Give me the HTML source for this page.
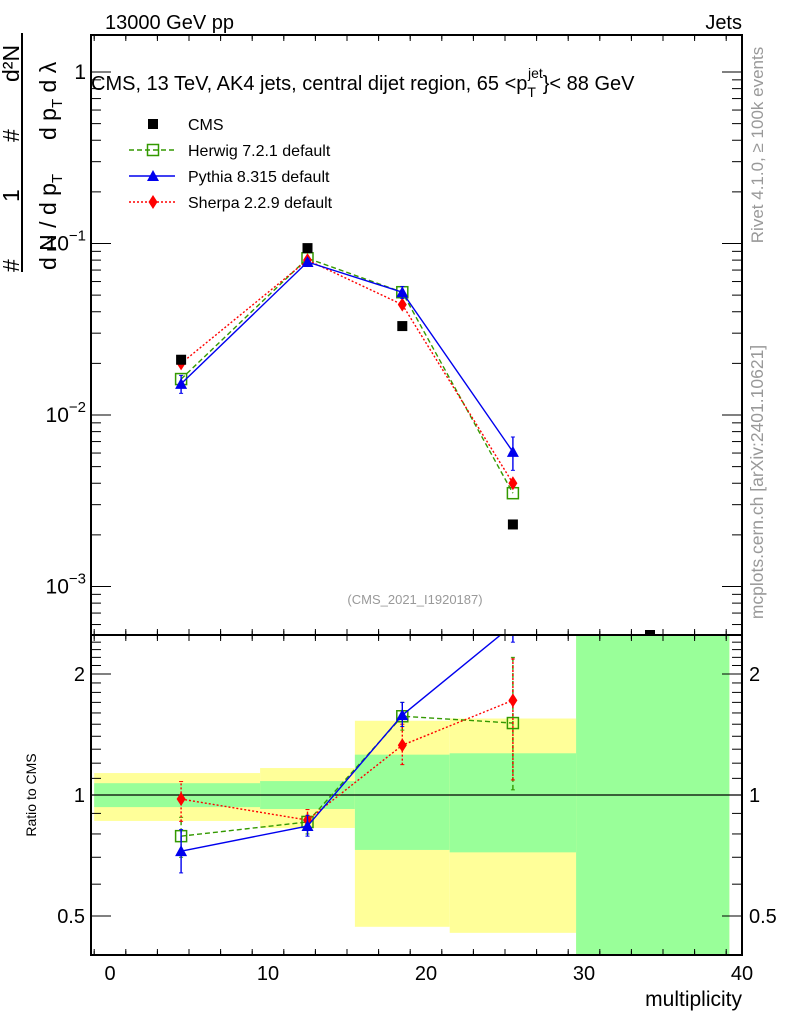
<!DOCTYPE html>
<html><head><meta charset="utf-8"><style>
html,body{margin:0;padding:0;background:#fff}
svg{display:block;font-family:"Liberation Sans",sans-serif}
</style></head><body>
<svg id="c" width="786" height="1024" viewBox="0 0 786 1024" xmlns="http://www.w3.org/2000/svg">
<defs>
<clipPath id="cpMain"><rect x="91" y="35" width="651" height="600"/></clipPath>
<clipPath id="cpRatio"><rect x="91" y="635" width="651" height="320"/></clipPath>
</defs>
<g id="bands" clip-path="url(#cpRatio)"></g>
<g id="ratioMarks" clip-path="url(#cpRatio)"></g>
<g id="mainMarks" clip-path="url(#cpMain)"></g>
<g id="axes"></g>
<text x="105" y="29" font-size="20">13000 GeV pp</text>
<text x="742" y="29" font-size="20" text-anchor="end">Jets</text>
<text x="91" y="90" font-size="20">CMS, 13 TeV, AK4 jets, central dijet region, 65 &lt;p<tspan font-size="14" dy="7">T</tspan><tspan font-size="14" dy="-19" dx="-8">jet</tspan><tspan dy="12">}&lt; 88 GeV</tspan></text>
<text x="415" y="604" font-size="13" fill="#999" text-anchor="middle">(CMS_2021_I1920187)</text>
<text transform="translate(763,145) rotate(-90)" font-size="17" fill="#999" text-anchor="middle">Rivet 4.1.0, ≥ 100k events</text>
<text transform="translate(763,482) rotate(-90)" font-size="17.5" fill="#999" text-anchor="middle">mcplots.cern.ch [arXiv:2401.10621]</text>
<text transform="translate(36,795) rotate(-90)" font-size="14" text-anchor="middle">Ratio to CMS</text>
<text x="742" y="1006" font-size="21" text-anchor="end">multiplicity</text>
<g font-size="23">
<line x1="22" y1="33" x2="22" y2="272" stroke="#000" stroke-width="2"/>
<text transform="translate(19,272) rotate(-90)">#</text>
<text transform="translate(19,202) rotate(-90)">1</text>
<text transform="translate(19,142) rotate(-90)">#</text>
<text transform="translate(19,82) rotate(-90)">d²N</text>
<text transform="translate(56,270) rotate(-90)">d N / d p<tspan font-size="15" dy="6">T</tspan></text>
<text transform="translate(56,140) rotate(-90)">d p<tspan font-size="15" dy="6">T</tspan><tspan dy="-6"> d λ</tspan></text>
</g>
<g id="legend"></g>
</svg>
<script>
const categories=[4.5,12.5,18.5,25.5];
const cmsValues=[0.021,0.094,0.033,0.0023];
const herwigValues=[0.0162,0.082,0.052,0.0035];
const pythiaValues=[0.0152,0.078,0.052,0.0061];
const sherpaValues=[0.020,0.080,0.044,0.0040];
const pythiaErr=[0.12,0.04,0.08,0.22];
const herwigRatio=[0.79,0.857,1.57,1.51];
const pythiaRatio=[0.725,0.837,1.58,2.65];
const sherpaRatio=[0.977,0.866,1.33,1.72];
const herwigRatioLo=[0.70,0.80,1.45,1.03];
const herwigRatioHi=[0.88,0.92,1.70,2.20];
const pythiaRatioLo=[0.64,0.79,1.48,2.4];
const pythiaRatioHi=[0.82,0.89,1.70,2.9];
const sherpaRatioLo=[0.86,0.82,1.19,1.09];
const sherpaRatioHi=[1.08,0.92,1.50,2.18];
const binEdges=[-1,9.5,15.5,21.5,29.5,39.2];
const yellowHi=[1.134,1.167,1.53,1.55,3.0];
const yellowLo=[0.862,0.828,0.47,0.454,0.3];
const greenHi=[1.07,1.083,1.26,1.27,3.0];
const greenLo=[0.933,0.923,0.73,0.72,0.3];
const xTicks=[0,10,20,30,40];
const mainTicks=[1,0.1,0.01,0.001];
const mainTickLabels=["1","10","10","10"];
const mainTickExp=["","−1","−2","−3"];
const ratioTicks=[0.5,1,2];
const ratioTickLabels=["0.5","1","2"];

const NS="http://www.w3.org/2000/svg";
const X=v=>110+v*15.8;
const Y=v=>72-171.5*Math.log10(v);
const R=v=>795-121*Math.log2(v);
function mk(tag,attrs,parent){const e=document.createElementNS(NS,tag);for(const k in attrs)e.setAttribute(k,attrs[k]);parent.appendChild(e);return e;}
const bands=document.getElementById('bands'),rm=document.getElementById('ratioMarks'),mm=document.getElementById('mainMarks'),ax=document.getElementById('axes'),lg=document.getElementById('legend');

for(let i=0;i<binEdges.length-1;i++){
  const x0=X(binEdges[i]),x1=X(binEdges[i+1]);
  const y=mk('rect',{x:x0,y:R(yellowHi[i]),width:x1-x0,height:R(yellowLo[i])-R(yellowHi[i]),fill:'#ffff99'},bands);
  
  
  const g=mk('rect',{x:x0,y:R(greenHi[i]),width:x1-x0,height:R(greenLo[i])-R(greenHi[i]),fill:'#99ff99'},bands);
  
  
}
mk('line',{x1:91,x2:742,y1:R(1),y2:R(1),stroke:'#000','stroke-width':1.2},bands);

function marker(type,x,y,color,parent){
  let e;
  if(type==='sq') e=mk('rect',{x:x-5,y:y-5,width:10,height:10,fill:'#000'},parent);
  else if(type==='osq') e=mk('rect',{x:x-5.5,y:y-5.5,width:11,height:11,fill:'none',stroke:color,'stroke-width':1.5},parent);
  else if(type==='tri') e=mk('polygon',{points:`${x},${y-6} ${x-6},${y+5} ${x+6},${y+5}`,fill:color},parent);
  else e=mk('polygon',{points:`${x},${y-7} ${x-4.5},${y} ${x},${y+7} ${x+4.5},${y}`,fill:color},parent);
  return e;
}
function series(vals,yf,color,dash,type,parent,name,lo,hi){
  const pts=categories.map((c,i)=>X(c)+','+yf(vals[i])).join(' ');
  const pl=mk('polyline',{points:pts,fill:'none',stroke:color,'stroke-width':1.4,'stroke-dasharray':dash},parent);
  
  
  categories.forEach((c,i)=>{
    if(lo){mk('line',{x1:X(c),x2:X(c),y1:yf(lo[i]),y2:yf(hi[i]),stroke:color,'stroke-width':1.4,'stroke-dasharray':dash},parent);
      mk('line',{x1:X(c)-2,x2:X(c)+2,y1:yf(lo[i]),y2:yf(lo[i]),stroke:color},parent);
      mk('line',{x1:X(c)-2,x2:X(c)+2,y1:yf(hi[i]),y2:yf(hi[i]),stroke:color},parent);}
    const m=marker(type,X(c),yf(vals[i]),color,parent);
    
    
  });
}
series(herwigValues,Y,'#339900','5,3','osq',mm,'herwig');
series(sherpaValues,Y,'#ff0000','2,2','dia',mm,'sherpa');
series(pythiaValues,Y,'#0000ee','','tri',mm,'pythia',pythiaValues.map((v,i)=>v*(1-pythiaErr[i])),pythiaValues.map((v,i)=>v*(1+pythiaErr[i])));
categories.forEach((c,i)=>{const m=marker('sq',X(c),Y(cmsValues[i]),'#000',mm);
  
  });
series(herwigRatio,R,'#339900','5,3','osq',rm,'herwig-ratio',herwigRatioLo,herwigRatioHi);
series(sherpaRatio,R,'#ff0000','2,2','dia',rm,'sherpa-ratio',sherpaRatioLo,sherpaRatioHi);
series(pythiaRatio,R,'#0000ee','','tri',rm,'pythia-ratio',pythiaRatioLo,pythiaRatioHi);

mk('rect',{x:91,y:35,width:651,height:600,fill:'none',stroke:'#000','stroke-width':2},ax);
mk('rect',{x:91,y:635,width:651,height:320,fill:'none',stroke:'#000','stroke-width':2},ax);
for(let v=-1;v<=40;v+=2){
  const big=v%10===0;const L=big?12:6;const x=X(v);if(x<91)continue;
  for(const [y0,d] of [[955,-1],[635,-1],[635,1],[35,1]])
    mk('line',{x1:x,x2:x,y1:y0,y2:y0+d*L,stroke:'#000'},ax);
}
for(let v=-1;v<=40;v++){if(v%2===0)continue;const x=X(v);if(x<91)continue;
  for(const [y0,d] of [[955,-1],[35,1],[635,-1],[635,1]])mk('line',{x1:x,x2:x,y1:y0,y2:y0+d*4,stroke:'#000'},ax);}
xTicks.forEach(v=>{const t=mk('text',{x:X(v),y:980,'font-size':20,'text-anchor':'middle'},ax);t.textContent=v;
  
  });
for(let e=-4;e<=0;e++)for(let m=1;m<=9;m++){
  const v=m*Math.pow(10,e);const y=Y(v);if(y<35||y>635)continue;
  const L=m===1?20:10;
  mk('line',{x1:91,x2:91+L,y1:y,y2:y,stroke:'#000'},ax);
  mk('line',{x1:742,x2:742-L,y1:y,y2:y,stroke:'#000'},ax);
}
mainTicks.forEach((v,i)=>{const t=mk('text',{x:86,y:Y(v)+7,'font-size':21,'text-anchor':'end'},ax);t.textContent=mainTickLabels[i];
  if(mainTickExp[i]){const s=mk('tspan',{'font-size':15,dy:-10},t);s.textContent=mainTickExp[i];}
  
  });
for(let v=0.4;v<=2.5;v+=0.1){const y=R(v);if(y<635||y>955)continue;
  const big=ratioTicks.some(t=>Math.abs(t-v)<1e-6);const L=big?20:10;
  mk('line',{x1:91,x2:91+L,y1:y,y2:y,stroke:'#000'},ax);
  mk('line',{x1:742,x2:742-L,y1:y,y2:y,stroke:'#000'},ax);}
ratioTicks.forEach((v,i)=>{
  const t=mk('text',{x:85,y:R(v)+7,'font-size':20,'text-anchor':'end'},ax);t.textContent=ratioTickLabels[i];
  
  
  const t2=mk('text',{x:749,y:R(v)+7,'font-size':20},ax);t2.textContent=ratioTickLabels[i];
  
  });
mk('rect',{x:645,y:630,width:10,height:5,fill:'#000'},ax);

const leg=[['CMS','sq','#000',''],['Herwig 7.2.1 default','osq','#339900','5,3'],['Pythia 8.315 default','tri','#0000ee',''],['Sherpa 2.2.9 default','dia','#ff0000','2,2']];
leg.forEach((l,i)=>{const y=124+i*26;
  const g=mk('g',{},lg);
  
  
  if(i)mk('line',{x1:129,x2:175,y1:y,y2:y,stroke:l[2],'stroke-width':1.4,'stroke-dasharray':l[3]},g);
  marker(l[1],153,y,l[2],g);
  const t=mk('text',{x:188,y:y+6,'font-size':16},g);t.textContent=l[0];});
</script>
</body></html>
